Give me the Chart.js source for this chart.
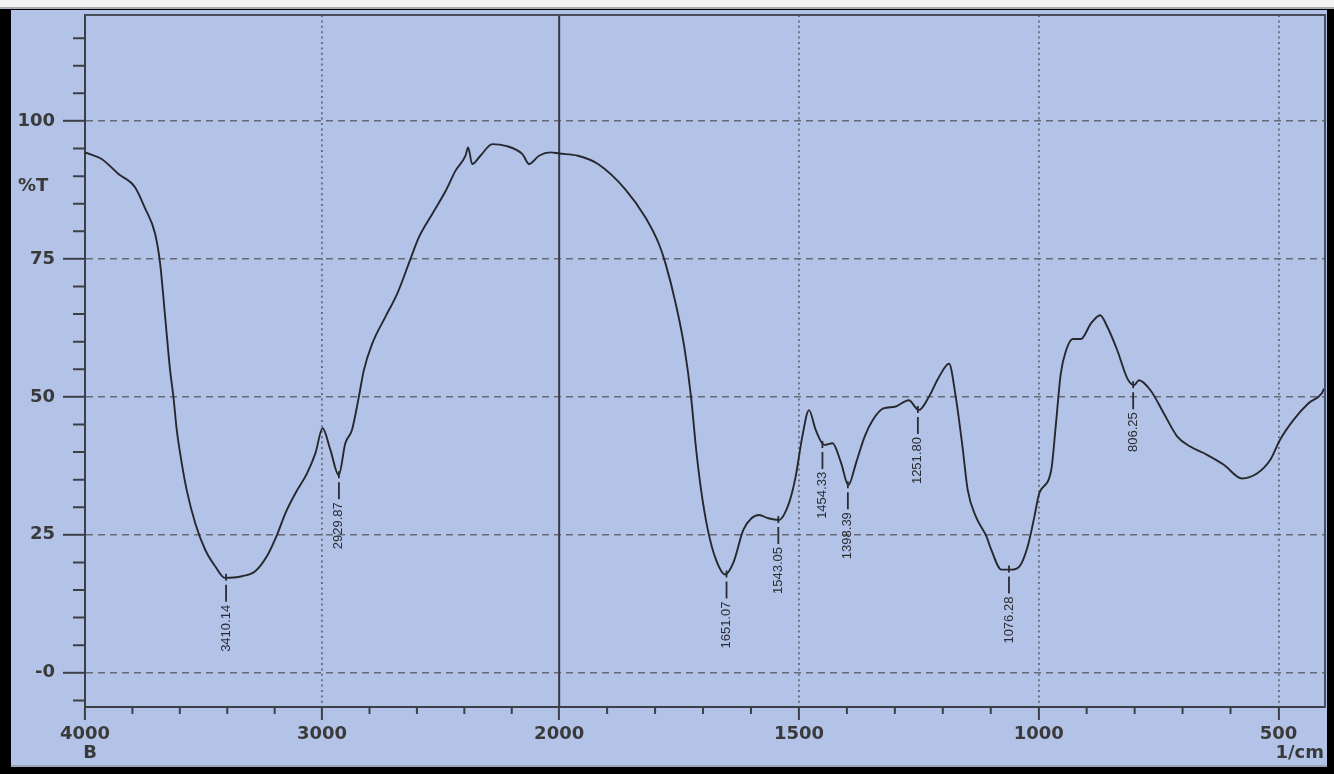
<!DOCTYPE html>
<html><head><meta charset="utf-8">
<script src="https://cdn.jsdelivr.net/npm/chart.js@4/dist/chart.umd.min.js"></script>
<style>
html,body{margin:0;padding:0;background:#000;width:1334px;height:774px;overflow:hidden}
#top{position:absolute;left:0;top:0;width:1334px;height:7px;background:#f3f3f3;border-bottom:2px solid #a9adb5}
#panel{position:absolute;left:11px;top:10px;width:1316px;height:755px;background:#b3c3e7;border-bottom:2px solid #9aa3b8}
#wrap{position:absolute;left:0;top:0;width:1334px;height:774px}
</style></head><body>
<div id="top"></div><div id="panel"></div>
<div id="wrap"><canvas id="c" width="1334" height="774"></canvas></div>
<script>
// ---- data ----
const WAVENUMBERS = [
 4000,3930,3859,3789,3747,3704,3683,3662,3641,3627,3613,3592,3571,3535,3493,3451,3410,3338,3282,3233,
 3190,3155,3113,3064,3028,2998,2965,2930,2902,2874,2845,2824,2789,2733,2683,2627,2592,2536,2479,2437,
 2395,2384,2367,2332,2282,2226,2155,2127,2085,2036,2000,
 1961,1919,1863,1820,1792,1778,1757,1739,1725,1715,1704,1690,1673,1654,1637,1616,1599,1583,1564,1542,
 1521,1507,1493,1479,1465,1447,1430,1412,1397,1381,1363,1346,1324,1300,1271,1250,1229,1208,1187,1173,
 1159,1148,1131,1109,1099,1078,1057,1040,1023,1009,999,974,964,954,943,929,912,891,872,857,
 836,815,801,791,767,739,711,684,649,614,576,545,517,497,469,438,410,405
];
const TRANSMITTANCE = [
 94.3,93.1,90.4,88.0,84.2,79.5,74.1,64.5,54.8,50.0,44.0,38.0,33.1,27.1,22.3,19.3,17.2,17.5,18.4,21.1,
 25.0,28.9,32.5,36.1,39.8,44.3,40.4,35.8,41.6,44.0,50.0,54.8,59.6,64.5,68.7,75.0,78.9,83.1,87.3,91.0,
 93.7,95.2,92.2,93.7,95.8,95.5,94.0,92.2,93.7,94.3,94.1,
 93.7,92.2,87.7,82.5,77.7,74.1,66.9,59.0,50.0,41.0,33.1,25.9,20.5,17.8,19.9,25.9,28.0,28.6,28.0,27.7,
 30.7,35.5,42.8,47.6,44.0,41.3,41.6,38.0,34.0,38.0,42.8,45.8,47.9,48.2,49.4,47.6,50.0,53.6,56.0,50.0,
 41.0,33.1,28.3,24.7,22.3,18.7,18.7,19.3,22.9,28.3,32.5,36.7,45.2,54.2,58.4,60.5,60.5,63.3,64.8,62.7,
 58.4,53.3,52.1,53.0,51.2,47.0,42.8,41.0,39.5,37.7,35.2,36.1,38.6,42.2,45.8,48.8,50.6,51.5
];
const X_TICKS = [4000, 3000, 2000, 1500, 1000, 500];
const Y_TICKS = [0, 25, 50, 75, 100];
const Y_TICK_LABELS = ['-0', '25', '50', '75', '100'];
const PEAK_LABELS = ['3410.14','2929.87','1651.07','1543.05','1454.33','1398.39','1251.80','1076.28','806.25'];
const PEAK_POS = [3405, 2929, 1651, 1543, 1451, 1398, 1252, 1062, 803];
const PEAK_T = [17.2, 35.8, 17.8, 27.7, 41.3, 34.0, 47.6, 18.7, 52.1];
const X_START = 4000, X_END = 403, Y_MIN = -6.2, Y_MAX = 119.2;

// ---- axis transform: 4000-2000 is drawn at half the scale of 2000-400 ----
const BREAK = 2000, HIGH_FACTOR = 0.4944;
function P(w){ return w >= BREAK ? (X_START - w) * HIGH_FACTOR : (X_START - BREAK) * HIGH_FACTOR + (BREAK - w); }

const minorX = [];
for (let w = 3800; w > BREAK; w -= 200) if (w % 1000 !== 0) minorX.push(w);
for (let w = 1900; w > X_END; w -= 100) if (w % 500 !== 0) minorX.push(w);
const minorY = [];
for (let v = -5; v <= 115; v += 5) if (v % 25 !== 0) minorY.push(v);

const AXIS = '#3c3f47', GRID = '#656a78', TXT = '#3a3a3a';

const decor = {
  id: 'decor',
  beforeDatasetsDraw(chart) {
    const {ctx, chartArea: a, scales: {x}} = chart;
    const bx = x.getPixelForValue(P(BREAK));
    ctx.save();
    ctx.strokeStyle = '#363942'; ctx.lineWidth = 2;
    ctx.beginPath(); ctx.moveTo(bx, a.top); ctx.lineTo(bx, a.bottom); ctx.stroke();
    ctx.restore();
  },
  afterDraw(chart) {
    const {ctx, chartArea: a, scales: {x, y}} = chart;
    ctx.save();
    // frame top/right
    ctx.strokeStyle = '#4a4e5a'; ctx.lineWidth = 2;
    ctx.beginPath(); ctx.moveTo(a.left, a.top); ctx.lineTo(a.right, a.top); ctx.lineTo(a.right, a.bottom); ctx.stroke();
    // minor ticks
    ctx.strokeStyle = AXIS; ctx.lineWidth = 2;
    ctx.beginPath();
    minorX.forEach(w => { const px = x.getPixelForValue(P(w)); ctx.moveTo(px, a.bottom); ctx.lineTo(px, a.bottom + 7); });
    minorY.forEach(v => { const py = y.getPixelForValue(v); ctx.moveTo(a.left - 12, py); ctx.lineTo(a.left, py); });
    ctx.stroke();
    // peak labels
    ctx.strokeStyle = '#2a2c32'; ctx.fillStyle = '#2a2c32'; ctx.lineWidth = 1.8;
    ctx.font = '13px "Liberation Sans", Arial, sans-serif';
    PEAK_POS.forEach((w, i) => {
      const px = x.getPixelForValue(P(w));
      const py = y.getPixelForValue(PEAK_T[i]);
      ctx.beginPath();
      ctx.moveTo(px, py - 4); ctx.lineTo(px, py + 3);
      ctx.moveTo(px, py + 7); ctx.lineTo(px, py + 24);
      ctx.stroke();
      ctx.save();
      ctx.translate(px, py + 27);
      ctx.rotate(-Math.PI / 2);
      ctx.textAlign = 'right'; ctx.textBaseline = 'middle';
      ctx.fillText(PEAK_LABELS[i], 0, 0);
      ctx.restore();
    });
    // axis texts
    ctx.fillStyle = TXT;
    ctx.font = 'bold 18px "DejaVu Sans", sans-serif';
    ctx.textBaseline = 'middle';
    ctx.textAlign = 'left'; ctx.fillText('%T', 18, 186);
    ctx.textAlign = 'center'; ctx.fillText('B', x.getPixelForValue(P(X_START)) + 5, 753);
    ctx.textAlign = 'right'; ctx.fillText('1/cm', 1324, 753);
    ctx.restore();
  }
};

new Chart(document.getElementById('c'), {
  type: 'line',
  data: { datasets: [{
    data: WAVENUMBERS.map((w, i) => ({ x: P(w), y: TRANSMITTANCE[i] })),
    borderColor: '#26282e', borderWidth: 1.9, pointRadius: 0,
    cubicInterpolationMode: 'monotone', fill: false
  }]},
  options: {
    responsive: false, animation: false, events: [],
    layout: { padding: { left: 0, right: 9, top: 15, bottom: 0 } },
    plugins: { legend: { display: false }, tooltip: { enabled: false } },
    scales: {
      x: {
        type: 'linear', min: P(X_START), max: P(X_END),
        afterBuildTicks: s => { s.ticks = X_TICKS.map(w => ({ value: P(w) })); },
        afterFit: s => { s.height = 67; s.paddingLeft = 0; s.paddingRight = 0; },
        grid: {
          color: c => (c.index === 0 || c.index === 2) ? 'rgba(0,0,0,0)' : GRID,
          lineWidth: 1.8, tickLength: 13, tickColor: AXIS, tickWidth: 2
        },
        border: { display: true, color: AXIS, width: 2, dash: [2, 3.4] },
        ticks: {
          autoSkip: false, maxRotation: 0, padding: 4, color: TXT,
          font: { family: 'DejaVu Sans', size: 18, weight: 'bold' },
          callback: (v, i) => String(X_TICKS[i])
        }
      },
      y: {
        type: 'linear', min: Y_MIN, max: Y_MAX,
        afterBuildTicks: s => { s.ticks = Y_TICKS.map(v => ({ value: v })); },
        afterFit: s => { s.width = 85; s.paddingTop = 0; s.paddingBottom = 0; },
        grid: { color: GRID, lineWidth: 1.6, tickLength: 22, tickColor: AXIS, tickWidth: 2 },
        border: { display: true, color: AXIS, width: 2, dash: [7, 5] },
        ticks: {
          padding: 8, color: TXT,
          font: { family: 'DejaVu Sans', size: 18, weight: 'bold' },
          callback: (v, i) => Y_TICK_LABELS[i]
        }
      }
    }
  },
  plugins: [decor]
});
</script>
</body></html>
